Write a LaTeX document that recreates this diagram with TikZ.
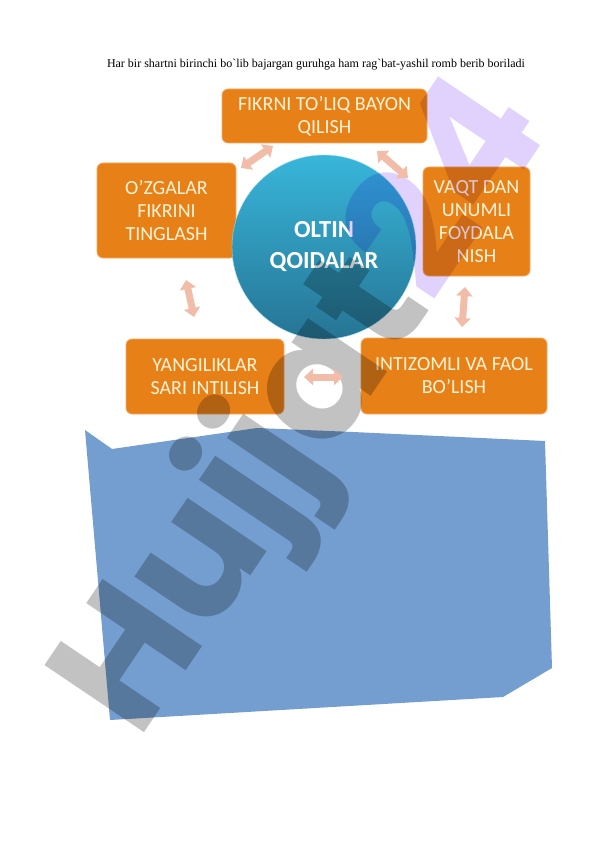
\documentclass[tikz,border=0pt]{standalone}
\usepackage{fontspec}
\setmainfont{Liberation Serif}
\newfontfamily\calibri{Carlito}
\newfontfamily\belgifont{Poppins}
\usetikzlibrary{arrows.meta}
\definecolor{qoidaorange}{RGB}{232,128,24}
\definecolor{qoidaedge}{RGB}{244,170,96}
\definecolor{qoidatext}{RGB}{255,243,214}
\definecolor{markaztop}{RGB}{56,182,218}
\definecolor{markazbot}{RGB}{38,116,148}
\definecolor{strelka}{RGB}{241,189,168}
\definecolor{maydon}{RGB}{115,158,207}
\definecolor{belgigray}{RGB}{194,194,194}
\definecolor{belgipurple}{RGB}{224,210,252}
\tikzset{
  qoida/.style={draw=qoidaedge, line width=.8pt, fill=qoidaorange, rounded corners=6pt,
    text=qoidatext, align=center, inner sep=0pt, font=\calibri\fontsize{20}{23}\selectfont},
  markaz/.style={circle, top color=markaztop, bottom color=markazbot, draw=markaztop!50!white,
    text=white, align=center, inner sep=0pt, minimum size=184pt,
    font=\calibri\bfseries\fontsize{24.5}{31}\selectfont},
  ikki/.style={draw=strelka, line width=7pt, {Triangle[width=16pt,length=9pt]}-{Triangle[width=16pt,length=9pt]}},
}
\begin{document}
\begin{tikzpicture}[x=1pt,y=-1pt]
    \useasboundingbox (0,0) rectangle (596,842);
    % sarlavha
    \node (sarlavha) at (316,65) {\fontsize{12}{14}\selectfont Har bir shartni birinchi bo\textasciigrave lib bajargan guruhga ham rag\textasciigrave bat-yashil romb berib boriladi};
    % qoidalar
    \node[qoida, minimum width=205pt, minimum height=54pt] (fikr) at (324.5,116) {FIKRNI TO’LIQ BAYON\\QILISH};
    \node[qoida, minimum width=139pt, minimum height=95pt] (tinglash) at (166.5,210.5) {O’ZGALAR\\FIKRINI\\TINGLASH};
    \node[qoida, minimum width=107pt, minimum height=109pt] (vaqt) at (476.5,221.5) {VAQT DAN\\UNUMLI\\FOYDALA\\NISH};
    \node[qoida, minimum width=158pt, minimum height=75pt] (yangilik) at (205,376.5) {YANGILIKLAR\\SARI INTILISH};
    \node[qoida, minimum width=186pt, minimum height=76pt] (intizom) at (454,376) {INTIZOMLI VA FAOL\\BO’LISH};
    \node[markaz] (oltin) at (324,247) {OLTIN\\QOIDALAR};
    % ko'k maydon
    \fill[maydon] (85,430) -- (112,449) -- (257,428) -- (353,432) -- (545,441) -- (552,668) -- (503,697) -- (110,720) -- cycle;
    % belgi
    \begin{scope}[blend mode=multiply]
        \node[rotate=56, anchor=base west, inner sep=0pt, font=\belgifont\bfseries\fontsize{171}{171}\selectfont] (belgi) at (138,742) {\textcolor{belgigray}{Hujjat}\textcolor{belgipurple}{24}};
    \end{scope}
    % strelkalar
    \coordinate (a1) at (273,146); \coordinate (a2) at (241,168);
    \coordinate (b1) at (377,151); \coordinate (b2) at (408,178);
    \coordinate (c1) at (186,280); \coordinate (c2) at (194,317);
    \coordinate (d1) at (465,287); \coordinate (d2) at (462,327);
    \coordinate (e1) at (304,377); \coordinate (e2) at (343,377);
    \draw[ikki] (a1) -- (a2);
    \draw[ikki] (b1) -- (b2);
    \draw[ikki] (c1) -- (c2);
    \draw[ikki] (d1) -- (d2);
    \draw[ikki] (e1) -- (e2);
\end{tikzpicture}
\end{document}
